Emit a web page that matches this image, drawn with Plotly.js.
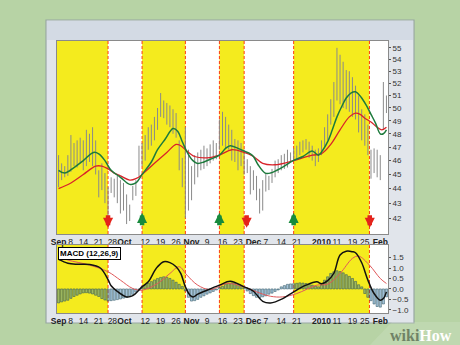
<!DOCTYPE html>
<html>
<head>
<meta charset="utf-8">
<script src="https://cdn.plot.ly/plotly-3.0.1.min.js"></script>
<style>html,body{margin:0;padding:0;background:#b7d3a5;}#chart{width:460px;height:345px;}</style>
</head>
<body>
<div id="chart"></div>
<script>
// ---- data (trading-day index 0 = 1 Sep 2009) ----
const tickIdx  = [0,3.9,8.1,12.9,17.4,21.3,28,33,38,43,48,53,58,63,67,72,77,85,90,95,99,104];
const tickText = ['Sep','8','14','21','28','Oct','12','19','26','Nov','9','16','23','Dec','7','14','21','2010','11','19','25','Feb'];
const boldLabels = ['Sep','Oct','Nov','Dec','2010','Feb'];

const high = [46.4,45.8,45.6,46.4,47.9,47.3,47.5,47.7,47.5,48.3,
              48.0,48.5,47.5,45.3,45.8,45.1,44.1,44.8,44.7,44.9,
              44.6,44.4,43.6,42.9,44.2,44.6,47.1,47.3,47.9,48.5,
              48.7,49.3,50.0,51.2,50.6,50.4,50.2,49.9,49.6,47.5,
              46.2,48.5,46.8,45.6,46.4,46.6,46.8,47.1,46.9,47.2,
              47.5,47.3,49.1,49.7,49.3,48.7,48.3,47.6,47.5,47.3,
              46.8,46.1,45.6,45.3,44.9,44.0,44.6,45.1,44.9,45.4,
              46.0,46.1,46.4,46.5,46.8,46.6,46.9,47.1,47.4,47.5,
              47.6,47.4,47.1,46.8,46.9,47.5,48.5,49.5,50.7,52.1,
              55.0,54.4,53.8,53.1,53.0,52.5,51.8,51.0,49.9,49.5,
              48.7,46.8,46.9,46.8,46.4,52.1,51.0];
const low  = [44.1,44.6,44.8,44.9,45.2,45.6,45.5,45.8,45.3,45.6,
              45.9,45.6,45.0,43.4,43.9,43.0,42.0,43.7,43.4,43.0,
              42.3,42.5,41.6,41.8,43.2,43.5,44.9,45.6,46.0,46.8,
              47.1,47.5,48.3,49.3,49.2,48.7,48.5,48.0,47.7,45.3,
              44.1,42.0,42.5,43.2,44.3,44.8,45.3,45.4,45.6,45.8,
              46.0,46.1,46.8,47.1,46.9,46.8,46.0,45.9,45.3,45.6,
              45.0,45.1,43.6,43.9,43.2,42.3,42.5,43.8,43.9,44.4,
              44.8,45.1,45.3,45.4,45.5,45.9,46.0,46.1,46.4,46.6,
              46.8,46.2,46.0,45.6,45.9,46.4,46.9,47.5,48.7,49.3,
              50.6,50.3,50.0,49.9,49.7,49.3,49.1,48.1,47.5,47.1,
              46.4,44.7,45.1,44.8,44.6,48.3,49.6];

const emaFastIdx = [0,2,5,8,11.3,13,15,17,20,23,25,27,30,32,34.5,37,38.5,40,41.6,43,44.8,47,49,52,54,55.5,58,60,62,63,64.5,66.8,68.5,70.6,73,75.8,79,82,84,85.5,87,88.5,90,91.5,93,94.5,96,97,98,99.5,101,102.5,104,105,106];
const emaFast    = [45.3,45.1,45.5,46.0,46.6,46.5,46.0,45.3,44.8,44.3,44.4,45.0,45.9,46.8,47.6,48.4,48.2,47.4,46.6,46.1,45.8,45.9,46.1,46.4,46.9,47.1,46.9,46.7,46.5,46.3,45.7,45.1,45.1,45.3,45.6,46.0,46.3,46.7,46.4,46.8,47.4,48.3,49.3,50.1,50.8,51.2,51.3,51.1,50.8,50.2,49.5,48.8,48.0,48.0,48.3];
const emaSlowIdx = [0,4,8,12,14,16,18,20,23,25,27,31,35,38,39.5,41,44,48,52,56,60,63,66,70,76,82,85,88,91,94,96,97.5,99,101,103,104.5,106];
const emaSlow    = [44.0,44.4,45.0,45.6,45.6,45.4,45.1,44.9,44.6,44.7,45.0,45.8,46.6,47.2,47.1,46.8,46.3,46.2,46.4,46.8,46.6,46.3,45.8,45.7,46.0,46.4,46.5,47.2,48.3,49.3,49.6,49.5,49.2,48.9,48.5,48.3,48.5];

const macdIdx = [0,3,6,10,13.5,16,17,19,22,24,27,29,31,32,34,36,38,39.5,41,42.5,43.5,45,48,52,55.5,60,63,66,68.5,72.5,76,80,83.5,85,87,89,91,93,95,96,98,100,102,104,105,106];
const macd    = [1.41,1.23,1.18,1.17,1.00,0.45,0.15,-0.12,-0.38,-0.32,0.10,0.34,0.85,1.06,1.30,1.26,1.06,0.74,0.10,-0.30,-0.38,-0.25,-0.06,0.18,0.37,0.10,-0.11,-0.59,-0.67,-0.46,-0.14,0.18,0.34,0.25,0.40,0.75,1.62,1.80,1.78,1.73,1.25,0.42,-0.22,-0.54,-0.46,-0.14];
const signalIdx = [0,3,10,16,20,24,27,32,36,39,41.5,45,49,54.5,60,64,68.5,72.5,77,83.5,87,91,95,97,100.5,104,106];
const signal    = [1.54,1.38,1.14,0.82,0.42,0.02,-0.06,0.26,0.74,1.06,0.66,0.18,-0.03,0.26,0.10,-0.14,-0.35,-0.38,-0.22,0.18,0.23,0.74,1.46,1.57,1.14,0.50,0.26];
const histogram = [-0.67,-0.62,-0.58,-0.54,-0.45,-0.36,-0.30,-0.24,-0.19,-0.18,
                   -0.20,-0.24,-0.30,-0.36,-0.46,-0.53,-0.58,-0.56,-0.54,-0.51,
                   -0.48,-0.44,-0.40,-0.34,-0.26,-0.15,-0.03,0.12,0.20,0.27,
                   0.35,0.43,0.50,0.55,0.58,0.56,0.50,0.42,0.32,0.22,
                   0.12,-0.10,-0.40,-0.58,-0.56,-0.50,-0.40,-0.33,-0.25,-0.19,
                   -0.12,-0.05,0.08,0.12,0.22,0.27,0.29,0.28,0.22,0.16,
                   0.05,-0.10,-0.22,-0.32,-0.40,-0.42,-0.38,-0.33,-0.25,-0.20,
                   -0.12,-0.05,0.10,0.16,0.22,0.24,0.25,0.27,0.29,0.28,
                   0.26,0.22,0.18,0.14,0.10,0.18,0.42,0.58,0.74,0.82,
                   0.87,0.83,0.77,0.68,0.60,0.50,0.36,0.20,0.10,-0.22,
                   -0.40,-0.56,-0.72,-0.84,-0.87,-0.72,-0.38];

// signal zones (bullish = yellow) and crossover arrows
const bandStart = [-0.5, 27, 52, 76];
const bandEnd   = [16, 41, 60, 100.5];
const crossIdx  = [16, 27, 41, 52, 60, 76, 100.5];
const buyIdx    = [27, 52, 76];
const sellIdx   = [16, 60.8, 100.6];
const sellLateIdx = [41];

// ---- build traces ----
const barX = [], barY = [];
high.forEach((h, i) => { barX.push(i, i, null); barY.push(low[i], h, null); });

const traces = [
  {type:'scatter', mode:'lines', x:barX, y:barY, xaxis:'x', yaxis:'y',
   line:{color:'#8a8a8a', width:1}, hoverinfo:'skip', connectgaps:false},
  {type:'scatter', mode:'lines', x:emaSlowIdx, y:emaSlow, xaxis:'x', yaxis:'y',
   line:{color:'#d8232a', width:1.3, shape:'spline', smoothing:1}, hoverinfo:'skip'},
  {type:'scatter', mode:'lines', x:emaFastIdx, y:emaFast, xaxis:'x', yaxis:'y',
   line:{color:'#1d7a3c', width:1.5, shape:'spline', smoothing:1}, hoverinfo:'skip'},
  {type:'bar', x:histogram.map((v, i) => i), y:histogram, xaxis:'x2', yaxis:'y2',
   marker:{color:'rgba(55,125,175,0.45)', line:{color:'rgba(40,80,90,0.85)', width:0.6}},
   hoverinfo:'skip'},
  {type:'scatter', mode:'lines', x:signalIdx, y:signal, xaxis:'x2', yaxis:'y2',
   line:{color:'#e0585a', width:1, shape:'spline', smoothing:1}, hoverinfo:'skip'},
  {type:'scatter', mode:'lines', x:macdIdx, y:macd, xaxis:'x2', yaxis:'y2',
   line:{color:'#111111', width:1.5, shape:'spline', smoothing:1}, hoverinfo:'skip'}
];

// ---- layout ----
const W = 460, H = 345;
const px = v => v / W, py = v => 1 - v / H;
const xDom = [px(57), px(388)];

const shapes = [
  {type:'rect', xref:'paper', yref:'paper', x0:px(46), x1:px(414), y0:py(323), y1:py(20),
   fillcolor:'#e1e5eb', line:{color:'#98a7a2', width:1.2}, layer:'below'},
  {type:'rect', xref:'paper', yref:'paper', x0:px(47), x1:px(413), y0:py(40), y1:py(21),
   fillcolor:'#d3dae4', line:{width:0}, layer:'below'},
  {type:'path', xref:'paper', yref:'paper', path:`M ${px(370)},0 L ${px(392)},${py(322)} L 1,${py(322)} L 1,0 Z`,
   fillcolor:'rgba(255,255,255,0.12)', line:{width:0}, layer:'below'},
  {type:'rect', xref:'x domain', yref:'y domain', x0:0, x1:1, y0:0, y1:1, fillcolor:'#ffffff', line:{width:0}, layer:'below'},
  {type:'rect', xref:'x2 domain', yref:'y2 domain', x0:0, x1:1, y0:0, y1:1, fillcolor:'#ffffff', line:{width:0}, layer:'below'}
];
bandStart.forEach((s, k) => {
  shapes.push({type:'rect', xref:'x', yref:'y domain', x0:s, x1:bandEnd[k], y0:0, y1:1,
               fillcolor:'#f4eb1e', line:{width:0}, layer:'below'});
  shapes.push({type:'rect', xref:'x2', yref:'y2 domain', x0:s, x1:bandEnd[k], y0:0, y1:1,
               fillcolor:'#f4eb1e', line:{width:0}, layer:'below'});
});
crossIdx.forEach(c => {
  shapes.push({type:'line', xref:'x', yref:'y domain', x0:c, x1:c, y0:0, y1:1,
               line:{color:'#ff3a14', width:1, dash:'3px,2px'}, layer:'below'});
  shapes.push({type:'line', xref:'x2', yref:'y2 domain', x0:c, x1:c, y0:0, y1:1,
               line:{color:'#ff3a14', width:1, dash:'3px,2px'}, layer:'below'});
});

const annotations = [
  {xref:'paper', yref:'paper', x:px(58), y:py(247), xanchor:'left', yanchor:'top',
   text:'<b>MACD (12,26,9)</b>', showarrow:false, bgcolor:'#ffffff', bordercolor:'#000000',
   borderwidth:1, borderpad:1, font:{family:'Liberation Sans, Arial', size:8, color:'#000'}},
  {xref:'paper', yref:'paper', x:px(421), y:py(335), xanchor:'center', yanchor:'middle',
   text:'<b><span style="color:#6f8266">wiki</span><span style="color:#ffffff">How</span></b>',
   showarrow:false, font:{family:'Liberation Serif, DejaVu Serif', size:16}}
];
const arrowBase = {xref:'x', yref:'y', text:'', showarrow:true, ax:0, arrowhead:2, arrowsize:0.45, arrowwidth:4.5};
sellIdx.forEach(i => annotations.push(Object.assign({}, arrowBase, {x:i, y:Math.log10(41.35), ay:-14, arrowcolor:'#e4231b'})));
buyIdx.forEach(i => annotations.push(Object.assign({}, arrowBase, {x:i, y:Math.log10(42.35), ay:14, arrowcolor:'#178a3c'})));
sellLateIdx.forEach(i => annotations.push(Object.assign({}, arrowBase, {x:i, y:Math.log10(40.45), ay:-12, arrowcolor:'#e2406a'})));

const tickLabels = tickText.map(t => boldLabels.includes(t) ? '<b>' + t + '</b>' : t);
const xCommon = {
  domain:xDom, range:[-0.5, 106.5], tickmode:'array', tickvals:tickIdx, ticktext:tickLabels, tickangle:0,
  showgrid:false, zeroline:false, showline:true, mirror:true, linecolor:'#8a8a8a', linewidth:1,
  ticks:'', tickfont:{family:'Liberation Sans, Arial', size:8.5, color:'#222'}, fixedrange:true
};
const layout = {
  width:W, height:H, margin:{l:0, r:0, t:0, b:0}, autosize:false,
  paper_bgcolor:'#b7d3a5', plot_bgcolor:'rgba(0,0,0,0)', showlegend:false, bargap:0.3,
  xaxis:Object.assign({}, xCommon, {anchor:'y'}),
  xaxis2:Object.assign({}, xCommon, {anchor:'y2', matches:'x'}),
  yaxis:{type:'log', domain:[py(234), py(41)], range:[Math.log10(40.95), Math.log10(55.6)], side:'right', anchor:'x',
         tickmode:'array', tickvals:[42,43,44,45,46,47,48,49,50,51,52,53,54,55],
         showgrid:false, zeroline:false, showline:true, mirror:true, linecolor:'#8a8a8a',
         ticks:'outside', ticklen:2, tickcolor:'#555',
         tickfont:{family:'Liberation Sans, Arial', size:8, color:'#333'}},
  yaxis2:{domain:[py(313), py(245)], range:[-1.15, 2.1], side:'right', anchor:'x2',
          tickmode:'array', tickvals:[-1,-0.5,0,0.5,1,1.5], tickformat:'.1f',
          showgrid:false, zeroline:false, showline:true, mirror:true, linecolor:'#8a8a8a',
          ticks:'outside', ticklen:2, tickcolor:'#555',
          tickfont:{family:'Liberation Sans, Arial', size:8, color:'#333'}},
  shapes:shapes, annotations:annotations
};
Plotly.newPlot('chart', traces, layout, {staticPlot:true, displayModeBar:false});
</script>
</body>
</html>
